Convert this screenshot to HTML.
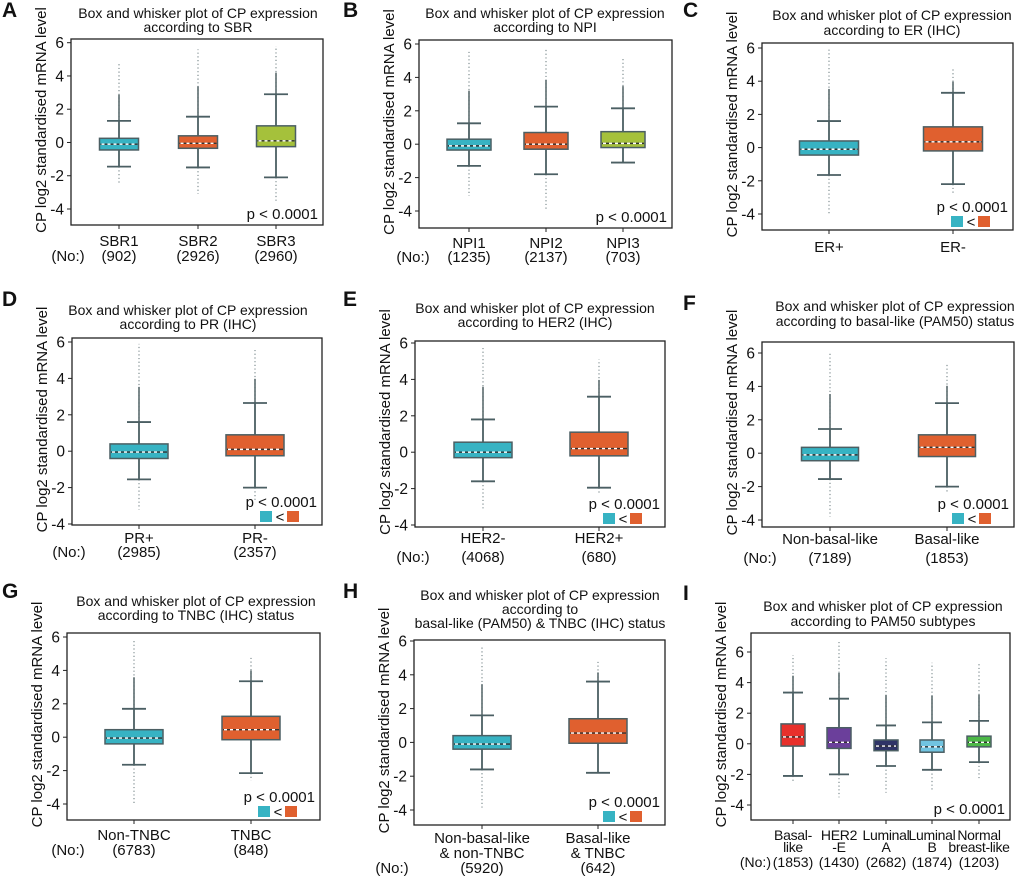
<!DOCTYPE html>
<html><head><meta charset="utf-8"><style>
html,body{margin:0;padding:0;background:#fff;}
svg{display:block;font-family:"Liberation Sans",Arial,sans-serif;}
</style></head><body>
<svg id="fig" width="1020" height="877" viewBox="0 0 1020 877" xmlns="http://www.w3.org/2000/svg"></svg>
<script>
// ---- data ----
const aCats=["SBR1","SBR2","SBR3"], aCounts=["(902)","(2926)","(2960)"];
const aLow=[-1.45,-1.5,-2.1], aQ1=[-0.45,-0.35,-0.25], aMed=[-0.1,-0.05,0.1], aQ3=[0.25,0.4,1.0], aHigh=[1.3,1.55,2.9], aOutMax=[4.8,5.6,5.8], aOutMin=[-2.5,-3.1,-3.6];
const bCats=["NPI1","NPI2","NPI3"], bCounts=["(1235)","(2137)","(703)"];
const bLow=[-1.3,-1.8,-1.1], bQ1=[-0.35,-0.3,-0.2], bMed=[-0.1,0.0,0.05], bQ3=[0.3,0.7,0.75], bHigh=[1.25,2.25,2.15], bOutMax=[5.6,5.8,5.1], bOutMin=[-3.1,-4.0,-1.1];
const cCats=["ER+","ER-"], cCounts=[];
const cLow=[-1.65,-2.2], cQ1=[-0.45,-0.2], cMed=[-0.1,0.35], cQ3=[0.4,1.25], cHigh=[1.6,3.3], cOutMax=[5.9,4.8], cOutMin=[-4.0,-2.8];
const dCats=["PR+","PR-"], dCounts=["(2985)","(2357)"];
const dLow=[-1.55,-2.0], dQ1=[-0.4,-0.25], dMed=[-0.05,0.1], dQ3=[0.4,0.9], dHigh=[1.6,2.65], dOutMax=[5.9,5.6], dOutMin=[-3.2,-2.7];
const eCats=["HER2-","HER2+"], eCounts=["(4068)","(680)"];
const eLow=[-1.6,-1.95], eQ1=[-0.3,-0.2], eMed=[0.0,0.2], eQ3=[0.55,1.1], eHigh=[1.8,3.05], eOutMax=[5.8,5.1], eOutMin=[-3.2,-2.3];
const fCats=["Non-basal-like","Basal-like"], fCounts=["(7189)","(1853)"];
const fLow=[-1.55,-2.0], fQ1=[-0.45,-0.2], fMed=[-0.1,0.35], fQ3=[0.35,1.1], fHigh=[1.45,3.0], fOutMax=[6.1,5.3], fOutMin=[-3.8,-2.4];
const gCats=["Non-TNBC","TNBC"], gCounts=["(6783)","(848)"];
const gLow=[-1.65,-2.15], gQ1=[-0.4,-0.15], gMed=[-0.05,0.45], gQ3=[0.45,1.25], gHigh=[1.7,3.35], gOutMax=[5.9,4.8], gOutMin=[-4.0,-2.6];
const hCats=["Non-basal-like|& non-TNBC","Basal-like|& TNBC"], hCounts=["(5920)","(642)"];
const hLow=[-1.6,-1.8], hQ1=[-0.4,-0.05], hMed=[-0.1,0.55], hQ3=[0.4,1.4], hHigh=[1.6,3.6], hOutMax=[5.7,4.8], hOutMin=[-4.0,-1.8];
const iCats=["Basal-|like","HER2|-E","Luminal|A","Luminal|B","Normal|breast-like"], iCounts=["(1853)","(1430)","(2682)","(1874)","(1203)"];
const iLow=[-2.1,-2.0,-1.45,-1.7,-1.2], iQ1=[-0.15,-0.3,-0.45,-0.55,-0.2], iMed=[0.45,0.1,-0.15,-0.2,0.1], iQ3=[1.3,1.05,0.25,0.25,0.5], iHigh=[3.35,2.95,1.2,1.4,1.5], iOutMax=[5.8,6.7,5.6,5.3,5.3], iOutMin=[-2.5,-3.5,-3.2,-3.1,-2.3];
const yTicks=[6,4,2,0,-2,-4];

const TEAL="#37b3c3",ORG="#e0602f",GRN="#a5c13b";
const panels=[
 {id:"a",letter:"A",lx:2,ly:17,title:["Box and whisker plot of CP expression","according to SBR"],tx:198,ty:[18,32],L:71,R:323,T:39,B:225,y6:42.7,ym4:209,xs:[119,198,276],bw:39,cols:[TEAL,ORG,GRN],legend:false,lab:[246,261],nox:68,
  cats:aCats,counts:aCounts,lo:aLow,q1:aQ1,md:aMed,q3:aQ3,hi:aHigh,omax:aOutMax,omin:aOutMin},
 {id:"b",letter:"B",lx:343,ly:17,title:["Box and whisker plot of CP expression","according to NPI"],tx:545,ty:[18,32],L:419,R:672,T:40,B:228,y6:44,ym4:211,xs:[469,546,623],bw:44,cols:[TEAL,ORG,GRN],legend:false,lab:[248,262],nox:413,
  cats:bCats,counts:bCounts,lo:bLow,q1:bQ1,md:bMed,q3:bQ3,hi:bHigh,omax:bOutMax,omin:bOutMin},
 {id:"c",letter:"C",lx:683,ly:17,title:["Box and whisker plot of CP expression","according to ER (IHC)"],tx:892,ty:[20,35],L:762,R:1013,T:43,B:230,y6:48,ym4:214,xs:[829,953],bw:59,cols:[TEAL,ORG],legend:true,lab:[252,0],nox:null,
  cats:cCats,counts:cCounts,lo:cLow,q1:cQ1,md:cMed,q3:cQ3,hi:cHigh,omax:cOutMax,omin:cOutMin},
 {id:"d",letter:"D",lx:2,ly:306,title:["Box and whisker plot of CP expression","according to PR (IHC)"],tx:188,ty:[315,329],L:72,R:322,T:338,B:525,y6:342,ym4:524,xs:[139,255],bw:58,cols:[TEAL,ORG],legend:true,lab:[543,557],nox:69,
  cats:dCats,counts:dCounts,lo:dLow,q1:dQ1,md:dMed,q3:dQ3,hi:dHigh,omax:dOutMax,omin:dOutMin},
 {id:"e",letter:"E",lx:343,ly:306,title:["Box and whisker plot of CP expression","according to HER2 (IHC)"],tx:535,ty:[313,327],L:415,R:665,T:341,B:527,y6:343,ym4:525,xs:[483,599],bw:58,cols:[TEAL,ORG],legend:true,lab:[543,562],nox:413,
  cats:eCats,counts:eCounts,lo:eLow,q1:eQ1,md:eMed,q3:eQ3,hi:eHigh,omax:eOutMax,omin:eOutMin},
 {id:"f",letter:"F",lx:683,ly:310,title:["Box and whisker plot of CP expression","according to basal-like (PAM50) status"],tx:895,ty:[311,326],L:762,R:1014,T:342,B:527,y6:353,ym4:520,xs:[830,947],bw:57,cols:[TEAL,ORG],legend:true,lab:[544,563],nox:760,
  cats:fCats,counts:fCounts,lo:fLow,q1:fQ1,md:fMed,q3:fQ3,hi:fHigh,omax:fOutMax,omin:fOutMin},
 {id:"g",letter:"G",lx:2,ly:598,title:["Box and whisker plot of CP expression","according to TNBC (IHC) status"],tx:196,ty:[606,620],L:67,R:320,T:633,B:820,y6:637,ym4:804,xs:[134,251],bw:58,cols:[TEAL,ORG],legend:true,lab:[840,855],nox:68,
  cats:gCats,counts:gCounts,lo:gLow,q1:gQ1,md:gMed,q3:gQ3,hi:gHigh,omax:gOutMax,omin:gOutMin},
 {id:"h",letter:"H",lx:343,ly:598,title:["Box and whisker plot of CP expression","according to","basal-like (PAM50) & TNBC (IHC) status"],tx:540,ty:[600,614,628],L:414,R:665,T:640,B:825,y6:641,ym4:810,xs:[482,598],bw:58,cols:[TEAL,ORG],legend:true,lab:[843,873],nox:392,
  cats:hCats,counts:hCounts,lo:hLow,q1:hQ1,md:hMed,q3:hQ3,hi:hHigh,omax:hOutMax,omin:hOutMin},
 {id:"i",letter:"I",lx:683,ly:600,title:["Box and whisker plot of CP expression","according to PAM50 subtypes"],tx:883,ty:[611,626],L:751,R:1010,T:633,B:820,y6:652,ym4:805,xs:[793,839,886,932,979],bw:24,cols:["#e8302b","#6b3f9b","#2f3467","#71c4e1","#4cb847"],legend:false,lab:[840,867],nox:null,
  cats:iCats,counts:iCounts,lo:iLow,q1:iQ1,md:iMed,q3:iQ3,hi:iHigh,omax:iOutMax,omin:iOutMin}
];

const svg=document.getElementById('fig');
const NS="http://www.w3.org/2000/svg";
const WC="#4b5f63";
function mk(tag,attrs,parent){const e=document.createElementNS(NS,tag);for(const k in attrs)e.setAttribute(k,attrs[k]);parent.appendChild(e);return e;}
function txt(s,x,y,size,anchor,parent,extra){const t=mk('text',Object.assign({x:x,y:y,'font-size':size,'text-anchor':anchor,fill:'#111'},extra||{}),parent);t.textContent=s;return t;}

panels.forEach(p=>{
  const g=mk('g',{},svg);
  
  
  const yS=v=>p.ym4+(v+4)*(p.y6-p.ym4)/10;
  const fs=p.id==='i'?14:15;
  const L=txt(p.letter,p.lx,p.ly,21,'start',g,{'font-weight':'bold'});
  
  
  p.title.forEach((line,k)=>{
    const t=txt(line,p.tx,p.ty[k],14,'middle',g);
    
    
  });
  const fr=mk('rect',{x:p.L,y:p.T,width:p.R-p.L,height:p.B-p.T,fill:'none',stroke:'#222','stroke-width':1.3},g);
  
  
  yTicks.forEach(v=>{
    const y=yS(v);
    mk('line',{x1:p.L-4,x2:p.L,y1:y,y2:y,stroke:'#222','stroke-width':1},g);
    const t=txt(String(v),p.L-7,y+5.5,15.5,'end',g);
    
    
  });
  const cy=(p.T+p.B)/2-12;
  const yt=txt('CP log2 standardised mRNA level',0,0,15,'middle',g,{transform:'translate('+(p.L-25)+','+cy+') rotate(-90)'});
  
  
  p.cats.forEach((c,i)=>{
    const x=p.xs[i], hw=p.bw/2, cap=p.id==='i'?10:12;
    mk('line',{x1:x,x2:x,y1:p.B,y2:p.B+4,stroke:'#222','stroke-width':1},g);
    // outliers: dense part near whisker, sparse to extreme
    const hiY=yS(p.hi[i]), omY=yS(p.omax[i]), mid=hiY+(omY-hiY)*0.45;
    const od=mk('path',{d:'M'+x+' '+hiY+'V'+omY,stroke:'#8a979a','stroke-width':1.3,'stroke-dasharray':'1.2 2.5',fill:'none'},g);
    
    
    mk('path',{d:'M'+x+' '+hiY+'V'+mid,stroke:'#5d6d70','stroke-width':1.6,fill:'none'},g);
    const od2=mk('line',{x1:x,x2:x,y1:yS(p.lo[i]),y2:yS(p.omin[i]),stroke:'#8a979a','stroke-width':1.3,'stroke-dasharray':'1.2 2.5'},g);
    
    
    const w=mk('path',{d:'M'+x+' '+yS(p.hi[i])+'V'+yS(p.lo[i])+'M'+(x-cap)+' '+yS(p.hi[i])+'H'+(x+cap)+'M'+(x-cap)+' '+yS(p.lo[i])+'H'+(x+cap),stroke:WC,'stroke-width':1.8,fill:'none'},g);
    
    
    const b=mk('rect',{x:x-hw,y:yS(p.q3[i]),width:p.bw,height:yS(p.q1[i])-yS(p.q3[i]),fill:p.cols[i],stroke:WC,'stroke-width':1.5},g);
    
    
    mk('line',{x1:x-hw+1,x2:x+hw-1,y1:yS(p.md[i]),y2:yS(p.md[i]),stroke:'#333','stroke-width':1.4},g);
    const m=mk('line',{x1:x-hw+2,x2:x+hw-2,y1:yS(p.md[i]),y2:yS(p.md[i]),stroke:'#fff','stroke-width':1.4,'stroke-dasharray':'3 3'},g);
    
    
    const lines=c.split('|');
    lines.forEach((ln,k)=>{
      const t=txt(ln,x,p.lab[0]+k*(p.id==='i'?12:15),fs,'middle',g,p.id==='i'?{'letter-spacing':'-0.3'}:{});
      
      
    });
    if(p.counts[i]){
      const t=txt(p.counts[i],x,p.lab[1],fs,'middle',g);
      
      
    }
  });
  if(p.nox!==null){
    const t=txt('(No:)',p.nox,p.lab[1],fs,'middle',g);
    
    
  } else if(p.id==='i'){
    const t=txt('(No:)',p.xs[0]-22,p.lab[1],fs,'end',g);
    
    
  }
  const pv=txt('p < 0.0001',p.R-5,p.legend?p.B-18:p.B-6,15,'end',g);
  
  
  if(p.legend){
    const lg=mk('g',{},g);
    
    
    const x0=p.R-62;
    mk('rect',{x:x0,y:p.B-14,width:12,height:11,fill:TEAL},lg);
    txt('<',x0+20,p.B-3,15,'middle',lg);
    mk('rect',{x:x0+27,y:p.B-14,width:12,height:11,fill:ORG},lg);
  }
});
</script>
</body></html>
